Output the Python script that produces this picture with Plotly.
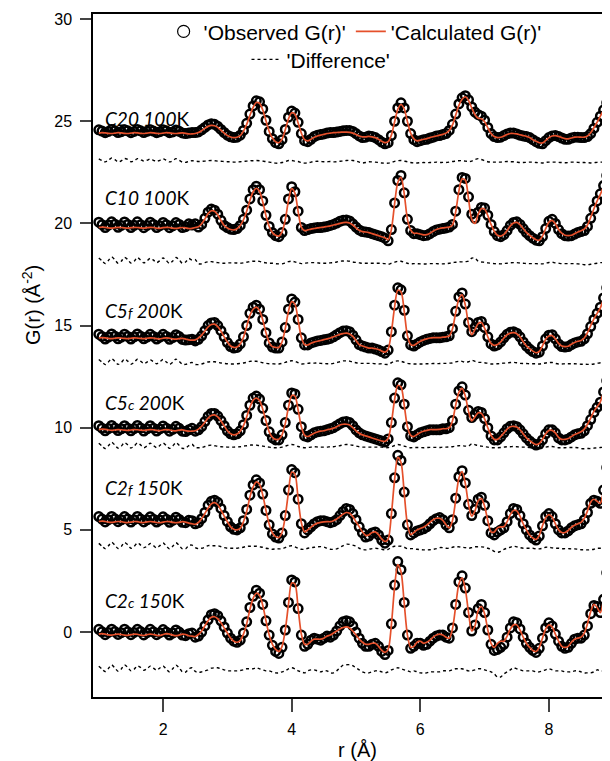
import plotly.graph_objects as go

# r grid: first sample and spacing of the measured G(r) points (Angstrom)
R_START = 1.0
R_STEP = 0.05

sample_labels = [
    "<i>C20 100</i>K",
    "<i>C10 100</i>K",
    "<i>C5</i><span style='font-size:14px'><i>f</i></span><i> 200</i>K",
    "<i>C5</i><span style='font-size:14px'><i>c</i></span><i> 200</i>K",
    "<i>C2</i><span style='font-size:14px'><i>f</i></span><i> 150</i>K",
    "<i>C2</i><span style='font-size:14px'><i>c</i></span><i> 150</i>K",
]

# vertical offsets of each stacked pattern and of its difference curve
curve_offsets = [24.5, 19.9, 14.45, 9.95, 5.45, 0.0]
diff_offsets = [23.0, 18.05, 13.15, 9.05, 4.1, -1.9]
label_y = [25.15, 21.25, 15.75, 11.25, 7.05, 1.55]

c20_obs = [
    0.08, 0.02, -0.06, 0.00, 0.10, 0.04, -0.05, -0.01, 0.09, 0.03, -0.06, 0.00, 0.10, 0.03, -0.05, 0.01, 0.09, 0.02, -0.06, -0.01,
    0.08, 0.03, -0.06, -0.02, 0.07, 0.01, -0.07, -0.10, -0.08, -0.05, -0.05, -0.02, 0.08, 0.20, 0.32, 0.38, 0.35, 0.25, 0.10, -0.05,
    -0.18, -0.26, -0.30, -0.28, -0.18, 0.05, 0.40, 0.85, 1.25, 1.50, 1.45, 1.10, 0.55, 0.00, -0.35, -0.55, -0.60, -0.40, 0.10, 0.70,
    1.00, 0.90, 0.45, -0.10, -0.45, -0.50, -0.38, -0.25, -0.18, -0.15, -0.12, -0.08, -0.05, -0.05, -0.03, 0.00, 0.03, 0.05, 0.05, 0.00,
    -0.10, -0.22, -0.30, -0.28, -0.22, -0.25, -0.30, -0.40, -0.52, -0.60, -0.55, -0.20, 0.50, 1.15, 1.40, 1.15, 0.50, -0.10, -0.40, -0.50,
    -0.45, -0.40, -0.38, -0.32, -0.28, -0.22, -0.20, -0.15, -0.10, 0.05, 0.35, 0.85, 1.35, 1.65, 1.75, 1.55, 1.20, 0.95, 0.82, 0.75,
    0.55, 0.20, -0.10, -0.25, -0.30, -0.28, -0.20, -0.12, -0.08, -0.08, -0.12, -0.18, -0.22, -0.25, -0.30, -0.40, -0.50, -0.58, -0.60, -0.45,
    -0.30, -0.22, -0.20, -0.25, -0.32, -0.38, -0.38, -0.32, -0.28, -0.28, -0.30, -0.30, -0.25, -0.10, 0.15, 0.45, 0.75, 1.05, 1.40, 1.70,
    2.00,
]
c20_calc = [
    -0.08, -0.06, -0.07, -0.09, -0.10, -0.08, -0.06, -0.07, -0.09, -0.10, -0.08, -0.06, -0.07, -0.09, -0.10, -0.08, -0.06, -0.07, -0.09, -0.10,
    -0.08, -0.06, -0.07, -0.09, -0.10, -0.08, -0.07, -0.09, -0.12, -0.12, -0.10, -0.05, 0.04, 0.15, 0.25, 0.30, 0.28, 0.20, 0.06, -0.08,
    -0.20, -0.27, -0.30, -0.28, -0.20, 0.02, 0.35, 0.78, 1.18, 1.42, 1.38, 1.05, 0.52, 0.00, -0.32, -0.50, -0.55, -0.38, 0.08, 0.62,
    0.92, 0.85, 0.42, -0.08, -0.40, -0.46, -0.38, -0.28, -0.22, -0.18, -0.14, -0.10, -0.08, -0.06, -0.05, -0.04, -0.03, -0.03, -0.04, -0.08,
    -0.15, -0.22, -0.26, -0.26, -0.24, -0.26, -0.30, -0.38, -0.48, -0.55, -0.50, -0.18, 0.46, 1.08, 1.32, 1.10, 0.48, -0.08, -0.36, -0.46,
    -0.42, -0.38, -0.35, -0.30, -0.26, -0.22, -0.18, -0.14, -0.08, 0.05, 0.32, 0.80, 1.28, 1.58, 1.70, 1.52, 1.15, 0.82, 0.65, 0.62,
    0.48, 0.18, -0.10, -0.25, -0.30, -0.28, -0.22, -0.15, -0.10, -0.10, -0.12, -0.16, -0.20, -0.24, -0.30, -0.40, -0.48, -0.55, -0.56, -0.44,
    -0.30, -0.22, -0.20, -0.24, -0.30, -0.35, -0.36, -0.32, -0.28, -0.27, -0.28, -0.28, -0.22, -0.06, 0.18, 0.46, 0.75, 1.05, 1.38, 1.68,
    1.98,
]

c10_obs = [
    0.16, 0.04, -0.10, 0.02, 0.18, 0.06, -0.09, 0.00, 0.17, 0.05, -0.10, 0.01, 0.18, 0.04, -0.11, 0.00, 0.16, 0.05, -0.10, -0.01,
    0.15, 0.04, -0.11, -0.02, 0.14, 0.05, -0.10, -0.06, 0.08, 0.02, 0.08, -0.08, 0.05, 0.35, 0.65, 0.80, 0.75, 0.55, 0.25, 0.00,
    -0.10, -0.18, -0.20, -0.15, 0.00, 0.30, 0.75, 1.30, 1.75, 1.92, 1.75, 1.20, 0.50, -0.05, -0.35, -0.50, -0.55, -0.35, 0.30, 1.30,
    1.90, 1.65, 0.70, -0.10, -0.25, -0.20, -0.15, -0.12, -0.10, -0.10, -0.08, -0.05, 0.00, 0.05, 0.12, 0.20, 0.25, 0.27, 0.22, 0.08,
    -0.08, -0.22, -0.30, -0.32, -0.35, -0.40, -0.45, -0.50, -0.55, -0.62, -0.75, -0.20, 1.10, 2.20, 2.45, 1.60, 0.30, -0.25, -0.40, -0.40,
    -0.45, -0.50, -0.48, -0.40, -0.30, -0.22, -0.18, -0.15, -0.12, -0.08, 0.05, 0.70, 1.75, 2.35, 2.30, 1.40, 0.55, 0.35, 0.65, 0.88,
    0.85, 0.50, 0.05, -0.30, -0.50, -0.55, -0.45, -0.25, 0.00, 0.15, 0.18, 0.05, -0.15, -0.35, -0.50, -0.62, -0.72, -0.75, -0.55, -0.15,
    0.20, 0.30, 0.10, -0.20, -0.40, -0.50, -0.52, -0.50, -0.42, -0.35, -0.30, -0.25, -0.05, 0.35, 0.80, 1.20, 1.55, 1.95, 2.45, 2.90,
    3.30,
]
c10_calc = [
    -0.10, -0.08, -0.09, -0.12, -0.13, -0.11, -0.09, -0.10, -0.12, -0.13, -0.11, -0.09, -0.10, -0.12, -0.13, -0.11, -0.09, -0.10, -0.13, -0.14,
    -0.11, -0.09, -0.10, -0.13, -0.14, -0.12, -0.10, -0.12, -0.15, -0.14, -0.10, -0.06, 0.08, 0.32, 0.58, 0.72, 0.70, 0.52, 0.24, 0.00,
    -0.12, -0.20, -0.22, -0.16, 0.00, 0.28, 0.70, 1.22, 1.65, 1.82, 1.66, 1.15, 0.48, -0.05, -0.35, -0.48, -0.52, -0.32, 0.28, 1.22,
    1.80, 1.58, 0.68, -0.08, -0.25, -0.22, -0.18, -0.15, -0.12, -0.10, -0.08, -0.05, -0.02, 0.02, 0.06, 0.10, 0.14, 0.15, 0.12, 0.02,
    -0.12, -0.24, -0.30, -0.32, -0.35, -0.40, -0.45, -0.50, -0.55, -0.60, -0.70, -0.20, 1.05, 2.10, 2.35, 1.55, 0.30, -0.22, -0.38, -0.38,
    -0.42, -0.46, -0.45, -0.38, -0.28, -0.20, -0.15, -0.12, -0.10, -0.08, 0.02, 0.65, 1.68, 2.28, 2.22, 1.30, 0.30, 0.10, 0.55, 0.82,
    0.80, 0.48, 0.05, -0.28, -0.48, -0.52, -0.44, -0.25, -0.02, 0.12, 0.15, 0.04, -0.15, -0.34, -0.48, -0.60, -0.70, -0.72, -0.52, -0.15,
    0.16, 0.25, 0.08, -0.20, -0.38, -0.48, -0.50, -0.48, -0.40, -0.32, -0.26, -0.18, 0.02, 0.40, 0.82, 1.20, 1.52, 1.92, 2.40, 2.85,
    3.25,
]

c5f_obs = [
    0.13, 0.02, -0.11, -0.01, 0.14, 0.03, -0.10, -0.02, 0.13, 0.02, -0.11, 0.00, 0.14, 0.03, -0.10, -0.01, 0.12, 0.02, -0.11, -0.02,
    0.12, 0.02, -0.12, -0.04, 0.10, 0.01, -0.13, -0.16, -0.14, -0.12, -0.20, -0.12, 0.05, 0.30, 0.55, 0.68, 0.70, 0.55, 0.30, 0.00,
    -0.28, -0.48, -0.55, -0.52, -0.35, 0.00, 0.55, 1.15, 1.45, 1.55, 1.35, 0.85, 0.20, -0.30, -0.50, -0.55, -0.55, -0.25, 0.45, 1.35,
    1.85, 1.70, 0.85, -0.05, -0.40, -0.40, -0.30, -0.25, -0.20, -0.18, -0.15, -0.12, -0.08, 0.00, 0.10, 0.20, 0.28, 0.30, 0.25, 0.08,
    -0.15, -0.38, -0.45, -0.50, -0.55, -0.55, -0.60, -0.65, -0.72, -0.80, -0.65, 0.25, 1.55, 2.40, 2.30, 1.30, 0.05, -0.40, -0.45, -0.35,
    -0.25, -0.18, -0.12, -0.08, -0.05, -0.05, -0.05, -0.02, 0.00, 0.05, 0.40, 1.25, 1.95, 2.15, 1.60, 0.70, 0.25, 0.45, 0.70, 0.75,
    0.45, 0.00, -0.35, -0.45, -0.40, -0.25, -0.05, 0.12, 0.22, 0.25, 0.18, 0.00, -0.25, -0.45, -0.60, -0.72, -0.80, -0.75, -0.45, -0.10,
    0.08, 0.10, -0.10, -0.35, -0.48, -0.50, -0.48, -0.38, -0.30, -0.25, -0.22, -0.10, 0.15, 0.50, 0.85, 1.15, 1.45, 1.90, 2.40, 2.75,
    3.10,
]
c5f_calc = [
    -0.06, -0.04, -0.05, -0.08, -0.09, -0.07, -0.05, -0.06, -0.08, -0.09, -0.07, -0.05, -0.06, -0.08, -0.09, -0.07, -0.05, -0.06, -0.09, -0.10,
    -0.07, -0.05, -0.07, -0.10, -0.11, -0.09, -0.08, -0.11, -0.15, -0.16, -0.15, -0.06, 0.08, 0.28, 0.48, 0.60, 0.62, 0.50, 0.28, 0.00,
    -0.26, -0.45, -0.52, -0.50, -0.35, -0.02, 0.50, 1.05, 1.35, 1.45, 1.28, 0.82, 0.20, -0.28, -0.48, -0.52, -0.52, -0.25, 0.40, 1.25,
    1.72, 1.60, 0.82, -0.02, -0.38, -0.40, -0.32, -0.26, -0.22, -0.18, -0.14, -0.10, -0.06, 0.00, 0.06, 0.12, 0.16, 0.18, 0.14, 0.02,
    -0.18, -0.38, -0.45, -0.50, -0.55, -0.55, -0.58, -0.62, -0.70, -0.75, -0.60, 0.22, 1.45, 2.28, 2.20, 1.25, 0.05, -0.38, -0.42, -0.32,
    -0.22, -0.15, -0.10, -0.06, -0.04, -0.04, -0.04, -0.02, 0.00, 0.04, 0.38, 1.18, 1.85, 2.05, 1.55, 0.62, 0.10, 0.35, 0.65, 0.70,
    0.42, 0.00, -0.32, -0.42, -0.38, -0.25, -0.06, 0.10, 0.18, 0.20, 0.15, 0.00, -0.24, -0.44, -0.58, -0.70, -0.78, -0.72, -0.44, -0.12,
    0.04, 0.06, -0.10, -0.32, -0.45, -0.48, -0.46, -0.36, -0.28, -0.22, -0.18, -0.06, 0.20, 0.55, 0.88, 1.15, 1.42, 1.85, 2.35, 2.70,
    3.05,
]

c5c_obs = [
    0.15, 0.03, -0.10, 0.01, 0.16, 0.04, -0.09, 0.00, 0.15, 0.03, -0.10, 0.01, 0.16, 0.04, -0.11, 0.00, 0.15, 0.03, -0.11, -0.01,
    0.14, 0.03, -0.12, -0.03, 0.12, 0.02, -0.12, -0.14, -0.05, 0.02, -0.12, -0.05, 0.10, 0.35, 0.60, 0.75, 0.75, 0.62, 0.40, 0.15,
    -0.10, -0.25, -0.30, -0.25, -0.10, 0.20, 0.65, 1.15, 1.50, 1.60, 1.45, 1.00, 0.40, -0.15, -0.45, -0.55, -0.55, -0.30, 0.30, 1.15,
    1.75, 1.70, 0.95, 0.10, -0.35, -0.40, -0.30, -0.20, -0.15, -0.12, -0.10, -0.05, 0.00, 0.05, 0.15, 0.25, 0.33, 0.35, 0.30, 0.15,
    -0.05, -0.20, -0.30, -0.35, -0.40, -0.45, -0.50, -0.55, -0.60, -0.65, -0.50, 0.30, 1.50, 2.25, 2.15, 1.20, 0.10, -0.35, -0.40, -0.30,
    -0.20, -0.15, -0.10, -0.05, -0.05, -0.05, -0.05, 0.00, 0.00, 0.05, 0.40, 1.20, 1.85, 2.05, 1.65, 0.90, 0.55, 0.70, 0.85, 0.80,
    0.50, 0.05, -0.35, -0.55, -0.55, -0.40, -0.20, 0.00, 0.12, 0.15, 0.10, -0.05, -0.25, -0.45, -0.60, -0.72, -0.80, -0.75, -0.55, -0.25,
    -0.05, -0.05, -0.20, -0.45, -0.55, -0.55, -0.50, -0.40, -0.30, -0.25, -0.22, -0.10, 0.15, 0.45, 0.80, 1.05, 1.30, 1.80, 2.35, 2.65,
    3.00,
]
c5c_calc = [
    -0.04, -0.02, -0.03, -0.06, -0.08, -0.06, -0.04, -0.05, -0.07, -0.08, -0.06, -0.04, -0.05, -0.07, -0.08, -0.06, -0.04, -0.05, -0.08, -0.09,
    -0.06, -0.04, -0.06, -0.09, -0.10, -0.07, -0.06, -0.09, -0.12, -0.12, -0.10, -0.02, 0.12, 0.32, 0.52, 0.65, 0.68, 0.58, 0.38, 0.14,
    -0.10, -0.25, -0.30, -0.26, -0.12, 0.15, 0.58, 1.05, 1.40, 1.50, 1.38, 0.95, 0.38, -0.15, -0.42, -0.52, -0.52, -0.30, 0.25, 1.05,
    1.62, 1.60, 0.92, 0.10, -0.32, -0.38, -0.30, -0.22, -0.16, -0.12, -0.10, -0.05, -0.02, 0.03, 0.10, 0.18, 0.22, 0.22, 0.18, 0.06,
    -0.10, -0.22, -0.30, -0.35, -0.40, -0.45, -0.50, -0.55, -0.60, -0.62, -0.48, 0.28, 1.42, 2.12, 2.05, 1.15, 0.10, -0.32, -0.38, -0.28,
    -0.18, -0.12, -0.08, -0.04, -0.04, -0.04, -0.03, 0.00, 0.00, 0.04, 0.38, 1.15, 1.78, 1.98, 1.60, 0.85, 0.38, 0.58, 0.78, 0.75,
    0.48, 0.05, -0.32, -0.52, -0.52, -0.38, -0.20, -0.02, 0.10, 0.12, 0.08, -0.05, -0.25, -0.45, -0.58, -0.70, -0.78, -0.72, -0.52, -0.25,
    -0.08, -0.08, -0.20, -0.42, -0.52, -0.52, -0.48, -0.38, -0.28, -0.22, -0.15, -0.02, 0.22, 0.52, 0.85, 1.08, 1.32, 1.80, 2.30, 2.60,
    2.95,
]

c2f_obs = [
    0.20, 0.08, -0.06, 0.05, 0.21, 0.09, -0.05, 0.04, 0.20, 0.08, -0.07, 0.05, 0.21, 0.08, -0.06, 0.04, 0.19, 0.07, -0.07, 0.03,
    0.19, 0.07, -0.08, 0.02, 0.17, 0.06, -0.08, -0.10, 0.02, 0.00, -0.15, -0.10, 0.10, 0.40, 0.75, 0.95, 1.00, 0.90, 0.60, 0.25,
    -0.05, -0.30, -0.42, -0.45, -0.35, 0.00, 0.55, 1.25, 1.75, 2.00, 1.85, 1.30, 0.50, -0.20, -0.65, -0.80, -0.85, -0.60, 0.25, 1.50,
    2.50, 2.35, 1.05, -0.15, -0.60, -0.45, -0.30, -0.15, -0.05, 0.00, 0.00, -0.05, -0.10, -0.05, 0.05, 0.25, 0.45, 0.60, 0.55, 0.35,
    0.05, -0.30, -0.60, -0.80, -0.75, -0.60, -0.55, -0.70, -0.95, -1.10, -0.95, 0.35, 2.10, 3.20, 2.95, 1.40, -0.20, -0.70, -0.60, -0.50,
    -0.45, -0.40, -0.30, -0.15, 0.00, 0.10, 0.15, 0.05, -0.20, -0.35, 0.05, 1.10, 2.15, 2.45, 1.85, 0.80, 0.25, 0.55, 1.05, 1.15,
    0.75, 0.00, -0.60, -0.70, -0.55, -0.45, -0.35, -0.05, 0.35, 0.60, 0.55, 0.25, -0.15, -0.45, -0.70, -0.85, -0.95, -0.75, -0.25, 0.20,
    0.35, 0.20, -0.15, -0.45, -0.60, -0.60, -0.50, -0.35, -0.25, -0.20, -0.15, 0.05, 0.40, 0.85, 1.00, 0.95, 0.85, 1.50, 2.60, 3.55,
    4.30,
]
c2f_calc = [
    -0.04, -0.02, -0.04, -0.07, -0.08, -0.06, -0.04, -0.05, -0.08, -0.09, -0.07, -0.04, -0.05, -0.08, -0.09, -0.06, -0.04, -0.06, -0.09, -0.10,
    -0.07, -0.04, -0.05, -0.08, -0.10, -0.08, -0.05, -0.07, -0.12, -0.15, -0.18, -0.08, 0.10, 0.35, 0.62, 0.82, 0.88, 0.78, 0.52, 0.22,
    -0.05, -0.30, -0.42, -0.45, -0.38, -0.05, 0.45, 1.15, 1.65, 1.90, 1.78, 1.25, 0.50, -0.18, -0.60, -0.78, -0.82, -0.58, 0.22, 1.40,
    2.38, 2.28, 1.05, -0.10, -0.55, -0.45, -0.32, -0.20, -0.12, -0.08, -0.06, -0.05, -0.05, 0.00, 0.08, 0.20, 0.32, 0.40, 0.36, 0.20,
    -0.05, -0.30, -0.55, -0.72, -0.70, -0.58, -0.55, -0.68, -0.90, -1.02, -0.90, 0.30, 2.00, 3.10, 2.85, 1.35, -0.18, -0.68, -0.58, -0.45,
    -0.38, -0.32, -0.22, -0.08, 0.05, 0.12, 0.12, 0.02, -0.20, -0.35, 0.00, 1.02, 2.08, 2.40, 1.82, 0.80, 0.22, 0.48, 0.98, 1.08,
    0.70, 0.00, -0.55, -0.55, -0.35, -0.30, -0.30, -0.05, 0.30, 0.50, 0.48, 0.22, -0.15, -0.45, -0.70, -0.85, -0.92, -0.72, -0.25, 0.15,
    0.30, 0.18, -0.15, -0.45, -0.58, -0.58, -0.48, -0.32, -0.22, -0.15, -0.08, 0.12, 0.48, 0.92, 1.05, 0.95, 0.85, 1.50, 2.55, 3.45,
    4.20,
]

c2c_obs = [
    0.13, 0.01, -0.13, -0.02, 0.14, 0.02, -0.12, -0.03, 0.14, 0.01, -0.13, -0.02, 0.13, 0.02, -0.14, -0.03, 0.13, 0.01, -0.13, -0.03,
    0.12, 0.00, -0.15, -0.05, 0.10, 0.00, -0.15, -0.18, -0.08, -0.05, -0.25, -0.20, 0.00, 0.30, 0.60, 0.85, 0.90, 0.80, 0.55, 0.25,
    -0.05, -0.30, -0.45, -0.50, -0.40, -0.05, 0.50, 1.20, 1.75, 2.05, 1.90, 1.35, 0.55, -0.15, -0.65, -0.95, -1.05, -0.75, 0.10, 1.45,
    2.55, 2.45, 1.15, -0.15, -0.70, -0.60, -0.40, -0.30, -0.35, -0.40, -0.30, -0.20, -0.25, -0.15, 0.05, 0.30, 0.50, 0.55, 0.50, 0.30,
    0.00, -0.30, -0.55, -0.70, -0.70, -0.60, -0.55, -0.70, -0.95, -1.10, -0.90, 0.40, 2.30, 3.45, 3.05, 1.45, -0.15, -0.80, -0.70, -0.55,
    -0.55, -0.65, -0.60, -0.45, -0.30, -0.20, -0.15, -0.15, -0.25, -0.30, 0.20, 1.35, 2.45, 2.75, 2.15, 0.95, 0.05, 0.35, 1.15, 1.35,
    0.95, 0.10, -0.60, -0.90, -0.85, -0.75, -0.60, -0.25, 0.20, 0.50, 0.45, 0.15, -0.25, -0.55, -0.75, -0.90, -1.00, -0.80, -0.30, 0.20,
    0.45, 0.30, -0.10, -0.45, -0.70, -0.80, -0.75, -0.55, -0.35, -0.30, -0.30, -0.15, 0.30, 0.90, 1.30, 1.25, 0.95, 1.60, 2.90, 3.90,
    4.60,
]
c2c_calc = [
    -0.10, -0.08, -0.10, -0.14, -0.15, -0.12, -0.10, -0.12, -0.15, -0.16, -0.13, -0.10, -0.11, -0.15, -0.17, -0.13, -0.10, -0.12, -0.16, -0.17,
    -0.12, -0.08, -0.10, -0.15, -0.18, -0.15, -0.10, -0.12, -0.18, -0.20, -0.22, -0.12, 0.05, 0.30, 0.55, 0.72, 0.75, 0.65, 0.45, 0.20,
    -0.05, -0.30, -0.45, -0.50, -0.42, -0.10, 0.40, 1.10, 1.65, 1.90, 1.80, 1.30, 0.55, -0.15, -0.60, -0.85, -0.95, -0.70, 0.10, 1.35,
    2.40, 2.35, 1.15, -0.10, -0.60, -0.60, -0.45, -0.35, -0.35, -0.35, -0.30, -0.20, -0.15, -0.05, 0.05, 0.15, 0.22, 0.25, 0.20, 0.05,
    -0.15, -0.35, -0.50, -0.60, -0.60, -0.55, -0.55, -0.70, -0.90, -1.00, -0.85, 0.35, 2.20, 3.30, 2.95, 1.40, -0.15, -0.75, -0.70, -0.50,
    -0.45, -0.55, -0.50, -0.40, -0.25, -0.15, -0.10, -0.15, -0.25, -0.30, 0.15, 1.25, 2.35, 2.65, 2.10, 0.95, 0.05, 0.30, 1.05, 1.25,
    0.90, 0.10, -0.55, -0.75, -0.55, -0.45, -0.45, -0.20, 0.15, 0.35, 0.35, 0.10, -0.25, -0.55, -0.75, -0.90, -0.95, -0.75, -0.30, 0.15,
    0.35, 0.25, -0.10, -0.45, -0.70, -0.75, -0.70, -0.50, -0.35, -0.30, -0.25, -0.05, 0.40, 1.00, 1.35, 1.20, 0.95, 1.60, 2.85, 3.80,
    4.50,
]

observed = [c20_obs, c10_obs, c5f_obs, c5c_obs, c2f_obs, c2c_obs]
calculated = [c20_calc, c10_calc, c5f_calc, c5c_calc, c2f_calc, c2c_calc]

for arr in observed + calculated:
    assert len(arr) == 161, len(arr)

x_tick_vals = [2, 4, 6, 8]
y_tick_vals = [0, 5, 10, 15, 20, 25, 30]

OBS_NAME = "'Observed G(r)'"
CALC_NAME = "'Calculated G(r)'"
DIFF_NAME = "'Difference'"

RED = "#E5502B"
AXIS_FONT = "Liberation Sans, Arial, sans-serif"
LABEL_FONT = "Lato, Carlito, sans-serif"

fig = go.Figure()
# legend-only entry for the observed points (bigger symbol, as in the original key)
fig.add_trace(go.Scatter(
    x=[None], y=[None], mode="markers", name=OBS_NAME, legend="legend", showlegend=True,
    marker=dict(symbol="circle-open", size=12, color="black", line=dict(width=1.2, color="black")),
))
for k, (obs, calc, off, doff) in enumerate(zip(observed, calculated, curve_offsets, diff_offsets)):
    r = [round(R_START + R_STEP * i, 3) for i in range(len(obs))]
    fig.add_trace(go.Scatter(
        x=r, y=[v + off for v in obs], mode="markers", name=OBS_NAME,
        showlegend=False, legend="legend",
        marker=dict(symbol="circle-open", size=8.5, color="black", line=dict(width=2.5, color="black")),
    ))
    fig.add_trace(go.Scatter(
        x=r, y=[v + off for v in calc], mode="lines", name=CALC_NAME,
        showlegend=(k == 0), legend="legend",
        line=dict(color=RED, width=1.7, shape="spline", smoothing=0.8),
    ))
    fig.add_trace(go.Scatter(
        x=r, y=[o - c + doff for o, c in zip(obs, calc)], mode="lines", name=DIFF_NAME,
        showlegend=(k == 0), legend="legend2",
        line=dict(color="black", width=1.4, dash="dot", shape="spline", smoothing=0.8),
    ))

annotations = []
for txt, yy in zip(sample_labels, label_y):
    annotations.append(dict(
        x=1.07, y=yy, xref="x", yref="y", text=txt, showarrow=False,
        xanchor="left", yanchor="middle", font=dict(family=LABEL_FONT, size=19, color="black"),
    ))
annotations.append(dict(
    x=-0.118, y=0.574, xref="paper", yref="paper", text="G(r) (Å<sup>-2</sup>)",
    textangle=-90, showarrow=False, xanchor="center", yanchor="middle",
    font=dict(family=AXIS_FONT, size=20, color="black"),
))
annotations.append(dict(
    x=0.511, y=-0.0776, xref="paper", yref="paper", text="r (Å)",
    showarrow=False, xanchor="center", yanchor="middle",
    font=dict(family=AXIS_FONT, size=20, color="black"),
))

# the page body adds an 8 px margin, so the figure is drawn 8 px smaller
fig.update_layout(
    width=602, height=753,
    margin=dict(l=85, r=0, t=6, b=64),
    paper_bgcolor="white", plot_bgcolor="white",
    font=dict(family=AXIS_FONT, color="black"),
    annotations=annotations,
    legend=dict(
        orientation="h", x=0.507, xanchor="center", y=0.974, yanchor="middle",
        font=dict(family=AXIS_FONT, size=21, color="black"), bgcolor="rgba(0,0,0,0)",
        itemwidth=30, traceorder="normal",
    ),
    legend2=dict(
        orientation="h", x=0.441, xanchor="center", y=0.933, yanchor="middle",
        font=dict(family=AXIS_FONT, size=21, color="black"), bgcolor="rgba(0,0,0,0)",
        itemwidth=30,
    ),
    xaxis=dict(
        range=[0.91, 8.95], tickvals=x_tick_vals, ticks="outside", ticklen=13, tickwidth=1.5,
        ticklabelstandoff=4,
        showline=True, linecolor="black", linewidth=1.5, mirror=True, showgrid=False, zeroline=False,
        tickfont=dict(family=AXIS_FONT, size=16, color="black"),
    ),
    yaxis=dict(
        range=[-3.18, 30.25], tickvals=y_tick_vals, ticks="outside", ticklen=11, tickwidth=1.5,
        ticklabelstandoff=5,
        showline=True, linecolor="black", linewidth=1.5, mirror=False, showgrid=False, zeroline=False,
        tickfont=dict(family=AXIS_FONT, size=16, color="black"),
    ),
)

fig.write_html("out.html")
